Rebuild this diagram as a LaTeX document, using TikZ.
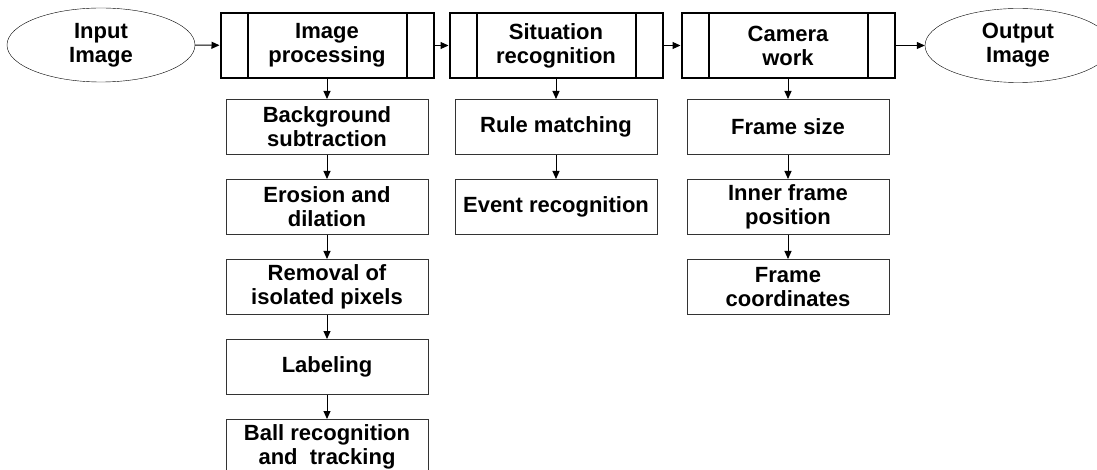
\documentclass[tikz,border=0pt]{standalone}
\usepackage{fontspec}
\setmainfont{Liberation Sans}
\usetikzlibrary{positioning, arrows.meta, shapes.geometric}
\tikzset{
	x=1pt, y=-1pt,
	>={Triangle[length=8pt,width=7pt]},
	node distance=24pt,
	every node/.style={font=\fontsize{22}{24}\selectfont\bfseries, align=center, inner sep=0pt},
	io/.style={ellipse, draw, thin, minimum width=188pt, minimum height=74pt},
	proc/.style={rectangle, draw, line width=2pt, minimum width=213pt, minimum height=65pt,
		path picture={
			\draw[line width=2pt] ([xshift=27pt]path picture bounding box.north west) -- ([xshift=27pt]path picture bounding box.south west);
			\draw[line width=2pt] ([xshift=-27pt]path picture bounding box.north east) -- ([xshift=-27pt]path picture bounding box.south east);}},
	sub/.style={rectangle, draw=black!80, line width=1pt, minimum width=202pt, minimum height=55pt},
	link/.style={->, line width=1pt}}

\begin{document}
\begin{tikzpicture}
		\useasboundingbox (0,0) rectangle (1097,470);
		\node[io] (in) at (101,45) {Input\\Image};
		\node[proc] (ip) at (327,45.5) {Image\\processing};
		\node[proc] (sr) at (556,45.5) {Situation\\recognition};
		\node[proc] (cw) at (788,45.5) {Camera\\work};
		\node[io, minimum width=186pt] (out) at (1018,45.5) {Output\\Image};
		
		\node[sub, below=20pt of ip] (bg) {Background\\subtraction};
		\node[sub, below=of bg] (ed) {Erosion and\\dilation};
		\node[sub, below=of ed] (ri) {Removal of\\isolated pixels};
		\node[sub, below=of ri] (lb) {Labeling};
		\node[sub, below=of lb] (br) {Ball recognition\\and~~tracking};
		
		\node[sub, below=20pt of sr] (rm) {Rule matching};
		\node[sub, below=of rm] (er) {Event recognition};
		
		\node[sub, below=20pt of cw] (fs) {Frame size};
		\node[sub, below=of fs] (fp) {Inner frame\\position};
		\node[sub, below=of fp] (fc) {Frame\\coordinates};
		
		\draw[link] (in) -- (ip);
		\draw[link] (ip) -- (sr);
		\draw[link] (sr) -- (cw);
		\draw[link] (cw) -- (out);
		\draw[link] (ip) -- (bg);
		\draw[link] (bg) -- (ed);
		\draw[link] (ed) -- (ri);
		\draw[link] (ri) -- (lb);
		\draw[link] (lb) -- (br);
		\draw[link] (sr) -- (rm);
		\draw[link] (rm) -- (er);
		\draw[link] (cw) -- (fs);
		\draw[link] (fs) -- (fp);
		\draw[link] (fp) -- (fc);
	\end{tikzpicture}
\end{document}
